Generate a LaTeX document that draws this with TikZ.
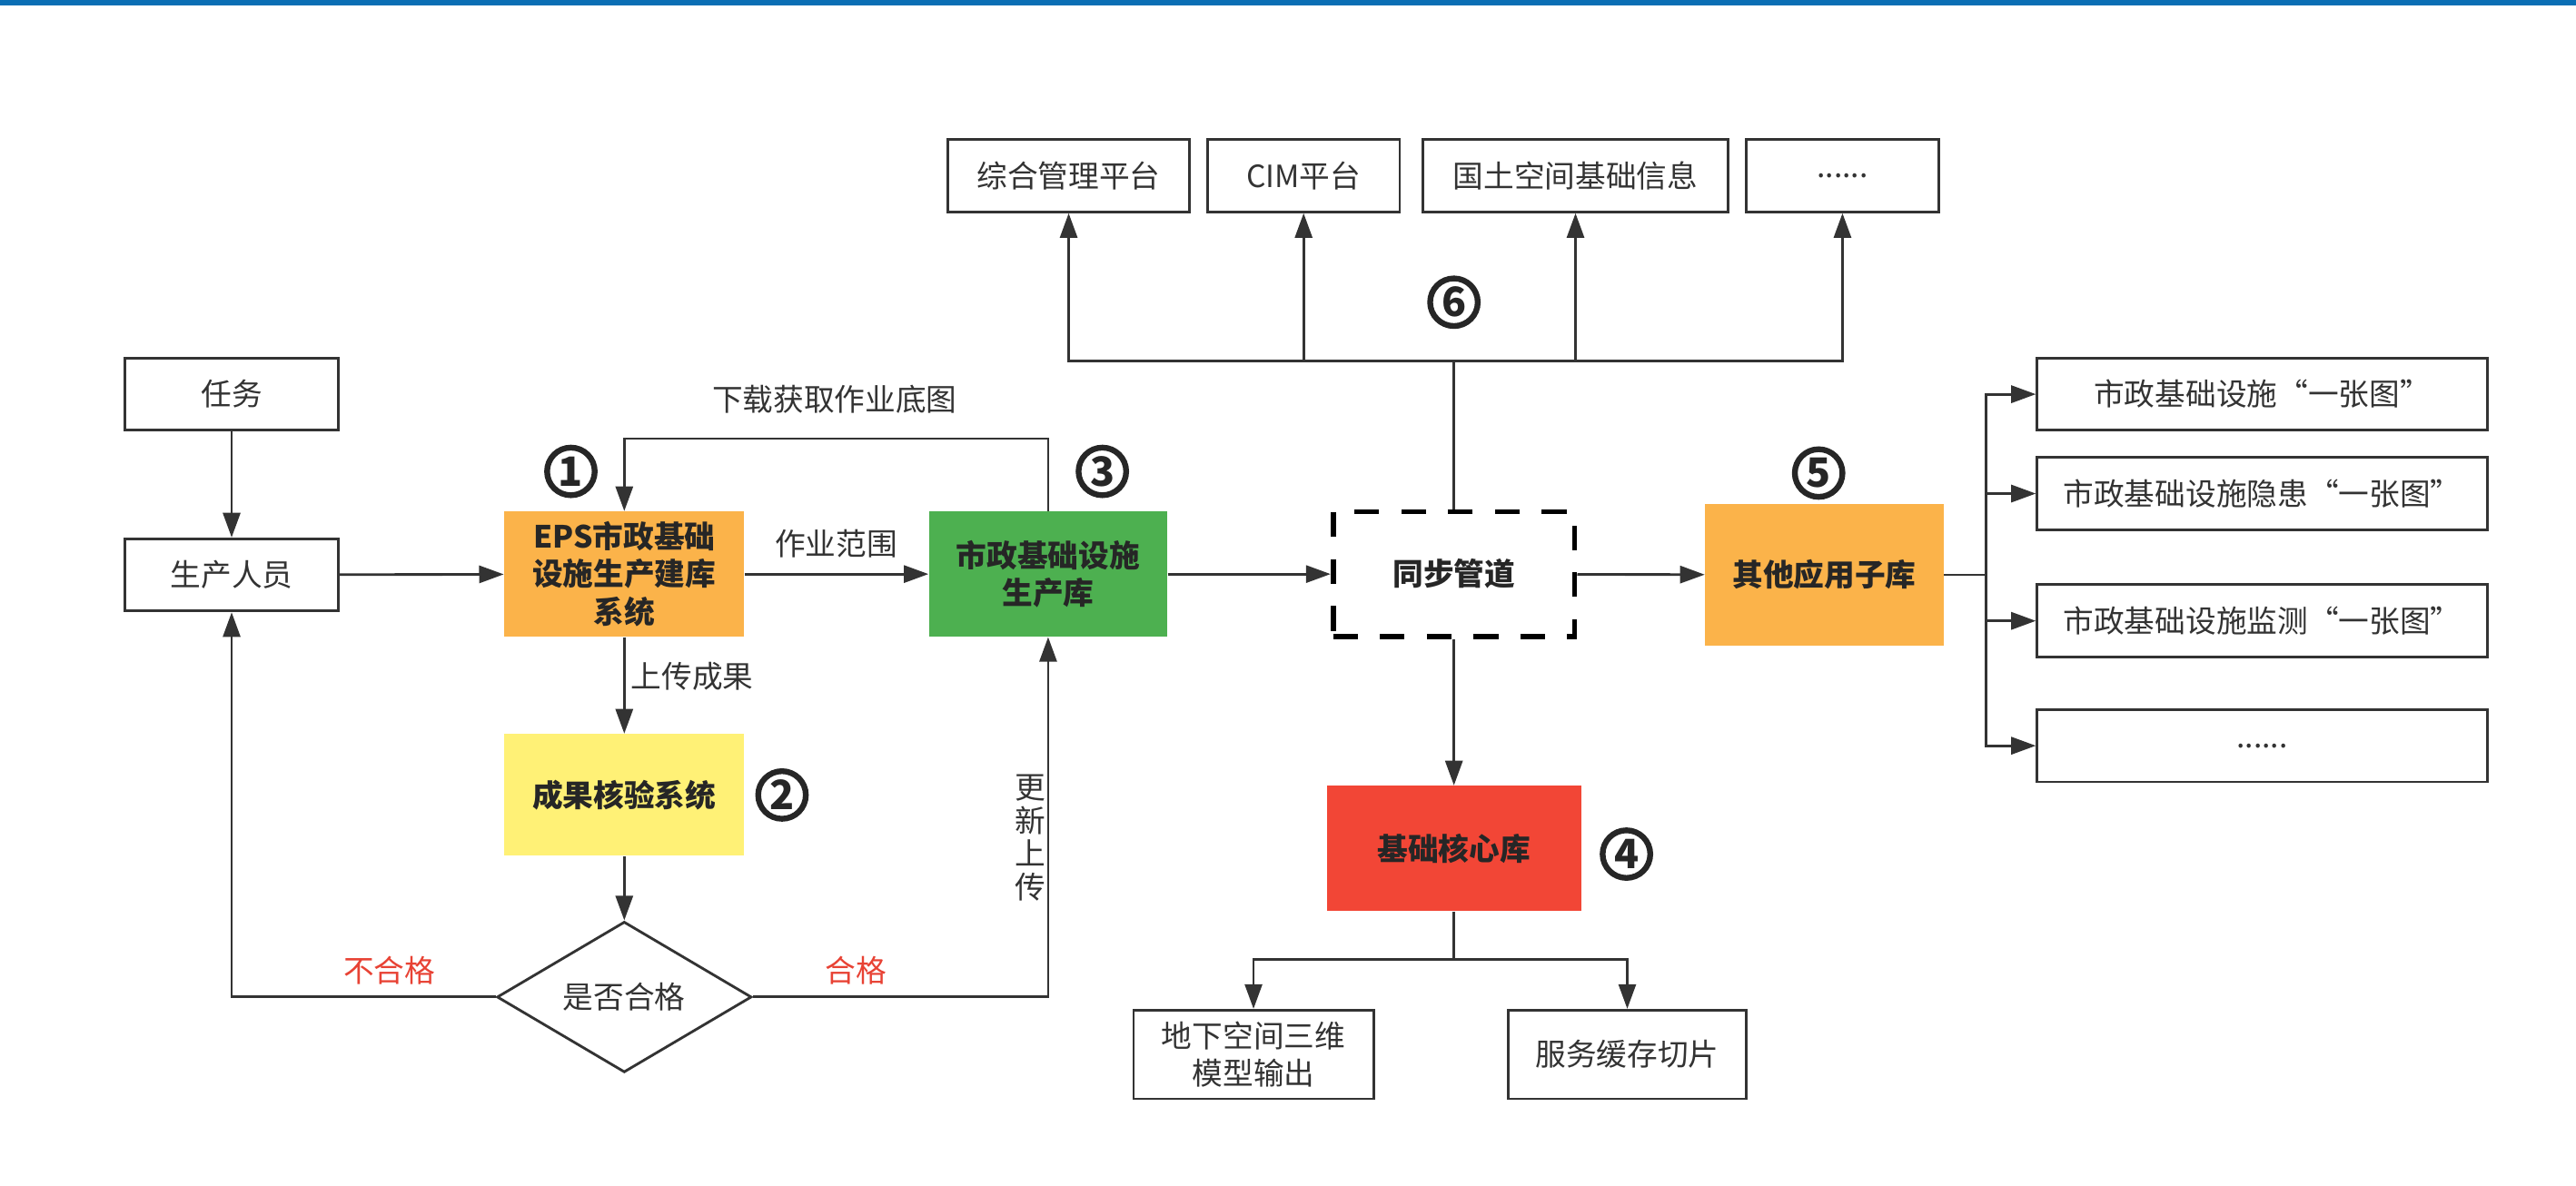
\documentclass[tikz,border=0pt]{standalone}
\usepackage{fontspec}
\setmainfont{Noto Sans CJK SC}
\usepackage{tikz}
\usetikzlibrary{arrows.meta,positioning,shapes.geometric}
\definecolor{ink}{RGB}{51,51,51}
\definecolor{barblue}{RGB}{10,110,180}
\definecolor{boxorange}{RGB}{251,179,74}
\definecolor{boxgreen}{RGB}{77,176,80}
\definecolor{boxyellow}{RGB}{255,241,118}
\definecolor{boxred}{RGB}{242,70,54}
\definecolor{passred}{RGB}{232,66,52}
\tikzset{
  unit/.style={draw=ink,line width=0.9pt,fill=white,inner sep=0pt,minimum height=8.8mm,align=center,text=ink,font=\fontsize{10.6}{13}\selectfont},
  stage/.style={inner sep=0pt,minimum width=29mm,minimum height=15.2mm,align=center,text=black!85,font=\fontsize{10.6}{13}\selectfont\bfseries},
  pipe/.style={stage,draw=black,line width=1.8pt,dash pattern=on 3mm off 2.7mm,fill=white},
  decide/.style={diamond,draw=ink,line width=0.9pt,inner sep=0pt,minimum width=31mm,minimum height=16.8mm,text=ink,font=\fontsize{10.6}{13}\selectfont},
  num/.style={circle,draw=black!85,line width=2pt,inner sep=0pt,minimum size=5.8mm,text=black!85,font=\fontsize{14}{14}\selectfont\bfseries},
  tag/.style={text=ink,inner sep=1pt,font=\fontsize{10.6}{13}\selectfont},
  arr/.style={-{Triangle[length=3mm,width=2.1mm]},draw=ink,line width=0.9pt},
  link/.style={draw=ink,line width=0.9pt}
}

\begin{document}
\begin{tikzpicture}[x=0.2mm,y=-0.2mm]
  \useasboundingbox (0,0) rectangle (1568,722);
  \fill[white] (0,0) rectangle (1568,722);
  \fill[barblue] (0,0) rectangle (1568,3.5);

  % production chain
  \node[unit,minimum width=26mm] (task) at (141,240) {任务};
  \node[unit,minimum width=26mm] (staff) at (141,350) {生产人员};
  \node[stage,fill=boxorange,minimum width=29.2mm] (eps) at (380,349.5) {EPS市政基础\\设施生产建库\\系统};
  \node[stage,fill=boxyellow,minimum width=29.2mm,minimum height=14.8mm] (check) at (380,484) {成果核验系统};
  \node[decide] (judge) at (380,607) {是否合格};
  \node[stage,fill=boxgreen] (prod) at (638,349.5) {市政基础设施\\生产库};
  \node[pipe,minimum width=29.4mm] (sync) at (885,349.5) {同步管道};
  \node[stage,fill=boxorange,minimum height=17.2mm] (other) at (1110.5,350) {其他应用子库};
  \node[stage,fill=boxred,minimum width=31mm] (core) at (885,516.5) {基础核心库};
  \node[unit,minimum width=29.2mm,minimum height=10.8mm] (model) at (763,642) {地下空间三维\\模型输出};
  \node[unit,minimum width=29mm,minimum height=10.8mm] (tile) at (990.5,642) {服务缓存切片};

  % platforms
  \node[unit,minimum width=29.4mm] (mgmt) at (650.5,107) {综合管理平台};
  \node[unit,minimum width=23.4mm] (cim) at (793.5,107) {CIM平台};
  \node[unit,minimum width=37.2mm] (land) at (959,107) {国土空间基础信息};
  \node[unit,minimum width=23.4mm] (moretop) at (1121.5,107) {......};

  % one-map products
  \node[unit,minimum width=54.8mm] (map1) at (1377,240) {市政基础设施“一张图”};
  \node[unit,minimum width=54.8mm] (map2) at (1377,300.5) {市政基础设施隐患“一张图”};
  \node[unit,minimum width=54.8mm] (map3) at (1377,378) {市政基础设施监测“一张图”};
  \node[unit,minimum width=54.8mm] (moreright) at (1377,454) {......};

  % step numbers
  \node[num] (n1) at (347.5,287) {1};
  \node[num] (n2) at (476,484) {2};
  \node[num] (n3) at (671,287) {3};
  \node[num] (n4) at (990,520) {4};
  \node[num] (n5) at (1107,288) {5};
  \node[num] (n6) at (885,184) {6};

  % labels
  \node[tag] (dltxt) at (508,243) {下载获取作业底图};
  \node[tag] (scope) at (509,331) {作业范围};
  \node[tag,anchor=west] (upl) at (382,412) {上传成果};
  \node[tag,align=center,font=\fontsize{10.6}{11.5}\selectfont] (upd) at (627,510) {更\\新\\上\\传};
  \node[tag,text=passred] (fail) at (237,591) {不合格};
  \node[tag,text=passred] (pass) at (521,591) {合格};

  \coordinate (dlturn) at (509,267);
  \coordinate (topbus) at (885,220);
  \coordinate (lowbus) at (885,584);
  \coordinate (rightbus) at (1209,350);

  \draw[arr] (task) -- (staff);
  \draw[arr] (staff) -- (eps);
  \draw[arr] (eps) -- (prod);
  \draw[arr] (prod.north) |- (dlturn) -| (eps.north);
  \draw[arr] (eps) -- (check);
  \draw[arr] (check) -- (judge);
  \draw[arr] (judge.west) -| (staff.south);
  \draw[arr] (judge.east) -| (prod.south);
  \draw[arr] (prod) -- (sync);
  \draw[arr] (sync) -- (other);

  \draw[link] (sync.north) -- (topbus);
  \draw[arr] (topbus) -| (mgmt.south);
  \draw[arr] (topbus) -| (cim.south);
  \draw[arr] (topbus) -| (land.south);
  \draw[arr] (topbus) -| (moretop.south);

  \draw[arr] (sync) -- (core);
  \draw[link] (core.south) -- (lowbus);
  \draw[arr] (lowbus) -| (model.north);
  \draw[arr] (lowbus) -| (tile.north);

  \draw[link] (other.east) -- (rightbus);
  \draw[arr] (rightbus) |- (map1.west);
  \draw[arr] (rightbus) |- (map2.west);
  \draw[arr] (rightbus) |- (map3.west);
  \draw[arr] (rightbus) |- (moreright.west);
\end{tikzpicture}
\end{document}
